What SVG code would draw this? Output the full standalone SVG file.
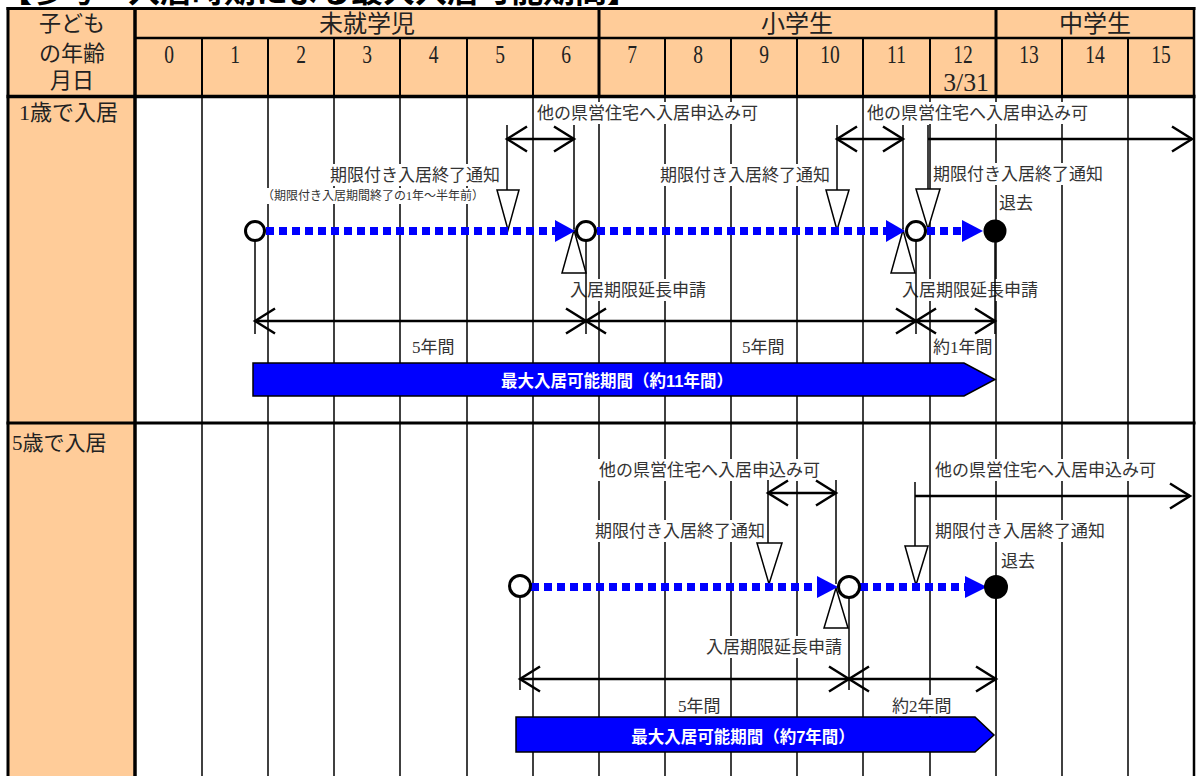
<svg xmlns="http://www.w3.org/2000/svg" width="1197" height="776" viewBox="0 0 1197 776">
<style>
.hd{font-family:"Liberation Serif","Noto Sans CJK JP",serif;fill:#222}
.lbl{font-family:"Liberation Serif","Noto Sans CJK JP",serif;font-size:17px;fill:#333}
.bg{fill:#fff}
.grid{stroke:#000;stroke-width:1.5}
.thk{stroke:#000;stroke-width:3}
.hv{stroke:#000;stroke-width:2}
.ln{stroke:#000;stroke-width:1.5;fill:none}
.arw{stroke:#000;stroke-width:2.5;fill:none}
.dot{stroke:#00f;stroke-width:8;stroke-dasharray:8 5;fill:none}
.head{fill:#00f}
.tri{fill:#fff;stroke:#000;stroke-width:1.5}
.oc{fill:#fff;stroke:#000;stroke-width:3}
.bar{fill:#00f;stroke:#000;stroke-width:1.5}
.bt{font-family:"Liberation Sans","Noto Sans CJK JP",sans-serif;font-size:16.5px;font-weight:bold;fill:#fff}
</style>
<defs>
<marker id="chev" markerUnits="userSpaceOnUse" markerWidth="30" markerHeight="30" refX="22" refY="15" orient="auto-start-reverse" viewBox="0 0 30 30">
<path d="M2,2.5 L22,15 L2,27.5" fill="none" stroke="#000" stroke-width="2.5"/>
</marker>
</defs>
<rect width="1197" height="776" fill="#fff"/>
<!-- title (cut off at top) -->
<text x="0" y="2" font-family="Noto Sans CJK JP,sans-serif" font-size="32" font-weight="bold" fill="#000">【参考　入居時期による最大入居可能期間】</text>

<g id="table">
<rect x="8" y="8" width="1186" height="88" fill="#FFCC99"/>
<rect x="8" y="96" width="127" height="680" fill="#FFCC99"/>
<!-- body grid -->
<g class="grid">
<line x1="202" y1="97" x2="202" y2="776"/><line x1="268" y1="97" x2="268" y2="776"/>
<line x1="334" y1="97" x2="334" y2="776"/><line x1="400" y1="97" x2="400" y2="776"/>
<line x1="467" y1="97" x2="467" y2="776"/><line x1="533" y1="97" x2="533" y2="776"/>
<line x1="599" y1="97" x2="599" y2="776"/><line x1="665" y1="97" x2="665" y2="776"/>
<line x1="731" y1="97" x2="731" y2="776"/><line x1="797" y1="97" x2="797" y2="776"/>
<line x1="863" y1="97" x2="863" y2="776"/><line x1="930" y1="97" x2="930" y2="776"/>
<line x1="996" y1="97" x2="996" y2="776"/><line x1="1062" y1="97" x2="1062" y2="776"/>
<line x1="1128" y1="97" x2="1128" y2="776"/>
</g>
<!-- header verticals -->
<g class="hv">
<line x1="202" y1="38" x2="202" y2="96"/><line x1="268" y1="38" x2="268" y2="96"/>
<line x1="334" y1="38" x2="334" y2="96"/><line x1="400" y1="38" x2="400" y2="96"/>
<line x1="467" y1="38" x2="467" y2="96"/><line x1="533" y1="38" x2="533" y2="96"/>
<line x1="665" y1="38" x2="665" y2="96"/><line x1="731" y1="38" x2="731" y2="96"/>
<line x1="797" y1="38" x2="797" y2="96"/><line x1="863" y1="38" x2="863" y2="96"/>
<line x1="930" y1="38" x2="930" y2="96"/><line x1="1062" y1="38" x2="1062" y2="96"/>
<line x1="1128" y1="38" x2="1128" y2="96"/>
</g>
<g class="thk">
<line x1="599" y1="8" x2="599" y2="96"/><line x1="996" y1="8" x2="996" y2="96"/>
<line x1="136" y1="38" x2="1194" y2="38" stroke-width="2.5"/>
<line x1="6.5" y1="8.5" x2="1195.5" y2="8.5"/>
<line x1="6.5" y1="96.5" x2="1195.5" y2="96.5" stroke-width="3.5"/>
<line x1="6.5" y1="423" x2="1195.5" y2="423"/>
<line x1="8" y1="7" x2="8" y2="776"/>
<line x1="135" y1="7" x2="135" y2="776" stroke-width="3.5"/>
<line x1="1194" y1="7" x2="1194" y2="776" stroke-width="2.5"/>
</g>
</g>

<g id="header-text" class="hd">
<text x="72" y="31" font-size="22" text-anchor="middle">子ども</text>
<text x="72" y="61" font-size="22" text-anchor="middle">の年齢</text>
<text x="72" y="88" font-size="22" text-anchor="middle">月日</text>
<text x="367" y="32" font-size="24" text-anchor="middle">未就学児</text>
<text x="797" y="32" font-size="24" text-anchor="middle">小学生</text>
<text x="1095" y="32" font-size="24" text-anchor="middle">中学生</text>
<g font-size="26" text-anchor="middle">
<text transform="translate(169,63) scale(0.75,1)">0</text>
<text transform="translate(235,63) scale(0.75,1)">1</text>
<text transform="translate(301,63) scale(0.75,1)">2</text>
<text transform="translate(367,63) scale(0.75,1)">3</text>
<text transform="translate(433.5,63) scale(0.75,1)">4</text>
<text transform="translate(500,63) scale(0.75,1)">5</text>
<text transform="translate(566,63) scale(0.75,1)">6</text>
<text transform="translate(632,63) scale(0.75,1)">7</text>
<text transform="translate(698,63) scale(0.75,1)">8</text>
<text transform="translate(764,63) scale(0.75,1)">9</text>
<text transform="translate(830,63) scale(0.75,1)">10</text>
<text transform="translate(896.5,63) scale(0.75,1)">11</text>
<text transform="translate(963,63) scale(0.75,1)">12</text>
<text transform="translate(1029,63) scale(0.75,1)">13</text>
<text transform="translate(1095,63) scale(0.75,1)">14</text>
<text transform="translate(1161,63) scale(0.75,1)">15</text>
<text transform="translate(966,91) scale(0.75,1)" textLength="61" lengthAdjust="spacingAndGlyphs">3/31</text>
</g>
<text x="19" y="120" font-size="22">1歳で入居</text>
<text x="12" y="450" font-size="21">5歳で入居</text>
</g>

<!-- labels with white backgrounds -->
<g id="labels">
<g class="bg">
<rect x="535" y="102" width="225" height="22"/><rect x="865" y="102" width="225" height="22"/>
<rect x="328" y="164" width="174" height="22"/><rect x="260" y="188" width="226" height="16"/>
<rect x="658" y="164" width="174" height="22"/><rect x="931" y="163" width="174" height="22"/>
<rect x="997" y="192" width="38" height="21"/>
<rect x="568" y="279" width="140" height="22"/><rect x="900" y="279" width="140" height="22"/>
<rect x="410" y="336" width="47" height="21"/><rect x="740" y="336" width="47" height="21"/><rect x="931" y="336" width="63" height="21"/>
<rect x="597" y="459" width="225" height="22"/><rect x="933" y="459" width="225" height="22"/>
<rect x="593" y="520" width="174" height="22"/><rect x="933" y="520" width="174" height="22"/>
<rect x="999" y="550" width="38" height="21"/>
<rect x="704" y="636" width="140" height="22"/>
<rect x="676" y="695" width="47" height="21"/><rect x="890" y="695" width="63" height="21"/>
</g>
<g class="lbl">
<text x="537" y="119">他の県営住宅へ入居申込み可</text>
<text x="867" y="119">他の県営住宅へ入居申込み可</text>
<text x="330" y="181">期限付き入居終了通知</text>
<text x="262" y="200" font-size="12">（期限付き入居期間終了の1年～半年前）</text>
<text x="660" y="181">期限付き入居終了通知</text>
<text x="933" y="180">期限付き入居終了通知</text>
<text x="999" y="209">退去</text>
<text x="570" y="296">入居期限延長申請</text>
<text x="902" y="296">入居期限延長申請</text>
<text x="412" y="353">5年間</text>
<text x="742" y="353">5年間</text>
<text x="933" y="353">約1年間</text>
<text x="599" y="476">他の県営住宅へ入居申込み可</text>
<text x="935" y="476">他の県営住宅へ入居申込み可</text>
<text x="595" y="537">期限付き入居終了通知</text>
<text x="935" y="537">期限付き入居終了通知</text>
<text x="1001" y="567">退去</text>
<text x="706" y="653">入居期限延長申請</text>
<text x="678" y="712">5年間</text>
<text x="892" y="712">約2年間</text>
</g>
</g>

<g id="connectors">
<!-- row 1 -->
<line class="ln" x1="507" y1="125" x2="507" y2="190"/>
<line class="ln" x1="574" y1="125" x2="574" y2="229"/>
<line class="arw" x1="507" y1="139" x2="574" y2="139" marker-start="url(#chev)" marker-end="url(#chev)"/>
<line class="ln" x1="837" y1="125" x2="837" y2="190"/>
<line class="ln" x1="903" y1="125" x2="903" y2="229"/>
<line class="arw" x1="837" y1="139" x2="903" y2="139" marker-start="url(#chev)" marker-end="url(#chev)"/>
<line class="ln" x1="928" y1="125" x2="928" y2="189" stroke-width="3"/>
<line class="arw" x1="928" y1="139" x2="1192" y2="139" marker-end="url(#chev)"/>
<line class="ln" x1="255" y1="241" x2="255" y2="334"/>
<line class="ln" x1="586" y1="241" x2="586" y2="334"/>
<line class="ln" x1="916" y1="241" x2="916" y2="334"/>
<line class="ln" x1="995" y1="242" x2="995" y2="334" stroke-width="2.5"/>
<line class="arw" x1="255" y1="321" x2="586" y2="321" marker-start="url(#chev)" marker-end="url(#chev)"/>
<line class="arw" x1="586" y1="321" x2="916" y2="321" marker-start="url(#chev)" marker-end="url(#chev)"/>
<line class="arw" x1="916" y1="321" x2="995" y2="321" marker-start="url(#chev)" marker-end="url(#chev)"/>
<!-- row 2 -->
<line class="ln" x1="768" y1="480" x2="768" y2="543"/>
<line class="ln" x1="836" y1="480" x2="836" y2="584"/>
<line class="arw" x1="768" y1="493" x2="836" y2="493" marker-start="url(#chev)" marker-end="url(#chev)"/>
<line class="ln" x1="915" y1="482" x2="915" y2="546" stroke-width="2"/>
<line class="arw" x1="915" y1="496" x2="1190" y2="496" marker-end="url(#chev)"/>
<line class="ln" x1="520" y1="597" x2="520" y2="690"/>
<line class="ln" x1="849" y1="598" x2="849" y2="690"/>
<line class="ln" x1="996" y1="599" x2="996" y2="690" stroke-width="2.5"/>
<line class="arw" x1="520" y1="679" x2="849" y2="679" marker-start="url(#chev)" marker-end="url(#chev)"/>
<line class="arw" x1="849" y1="679" x2="996" y2="679" marker-start="url(#chev)" marker-end="url(#chev)"/>
</g>

<g id="row1">
<g id="r1-notice1"><polygon class="tri" points="497,190 519,190 508,230"/></g>
<g id="r1-notice2"><polygon class="tri" points="826,190 849,190 837,230"/></g>
<g id="r1-notice3"><polygon class="tri" points="916,189 940,189 928,229"/></g>
<g id="r1-ext1"><polygon class="tri" points="574,230 562,273 586,273"/></g>
<g id="r1-ext2"><polygon class="tri" points="903,230 891,273 915,273"/></g>
<g id="r1-flow">
<line class="dot" x1="266" y1="231" x2="556" y2="231"/>
<polygon class="head" points="555,220 575,231 555,242"/>
<line class="dot" x1="597" y1="231" x2="887" y2="231"/>
<polygon class="head" points="886,220 905,231 886,242"/>
<line class="dot" x1="927" y1="231" x2="963" y2="231"/>
<polygon class="head" points="962,220 983,231 962,242"/>
</g>
<g id="r1-start"><circle class="oc" cx="255" cy="231" r="9.5"/></g>
<g id="r1-renew1"><circle class="oc" cx="586" cy="231" r="9.5"/></g>
<g id="r1-renew2"><circle class="oc" cx="916" cy="231" r="9.5"/></g>
<g id="r1-exit"><circle cx="995" cy="231" r="11.5" fill="#000"/></g>
<g id="r1-bar">
<polygon class="bar" points="253,363 964,363 995,379.5 964,396 253,396"/>
<text class="bt" x="617" y="387" text-anchor="middle">最大入居可能期間（約11年間）</text>
</g>
</g>

<g id="row2">
<g id="r2-notice1"><polygon class="tri" points="757,543 782,543 769,584"/></g>
<g id="r2-notice2"><polygon class="tri" points="905,546 928,546 916,585"/></g>
<g id="r2-ext1"><polygon class="tri" points="836,588 824,628 848,628"/></g>
<g id="r2-flow">
<line class="dot" x1="531" y1="587" x2="818" y2="587"/>
<polygon class="head" points="817,576 838,587 817,598"/>
<line class="dot" x1="860" y1="587" x2="966" y2="587"/>
<polygon class="head" points="965,576 987,587 965,598"/>
</g>
<g id="r2-start"><circle class="oc" cx="520" cy="586" r="10.5"/></g>
<g id="r2-renew1"><circle class="oc" cx="849" cy="587" r="10.5"/></g>
<g id="r2-exit"><circle cx="996" cy="587" r="12" fill="#000"/></g>
<g id="r2-bar">
<polygon class="bar" points="516,717 975,717 994,735 975,752 516,752"/>
<text class="bt" x="743" y="743" text-anchor="middle">最大入居可能期間（約7年間）</text>
</g>
</g>
</svg>
